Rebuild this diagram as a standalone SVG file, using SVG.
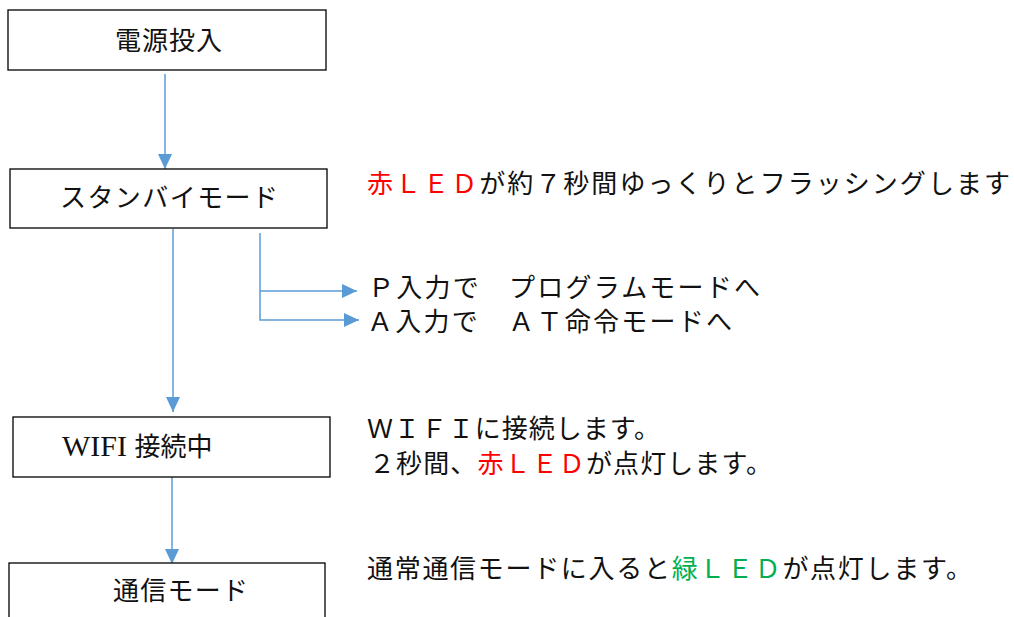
<svg xmlns="http://www.w3.org/2000/svg" width="1014" height="617" viewBox="0 0 1014 617">
<style>
.box{fill:#fff;stroke:#000;stroke-width:1.3}
.t{font-family:"Liberation Serif","Noto Sans CJK JP",serif;font-size:26px;fill:#111}
.c{stroke:#5B9BD5;stroke-width:1.5;fill:none}
.red{fill:#FF0000}
.green{fill:#00B050}
</style>
<defs>
<marker id="ah" markerUnits="userSpaceOnUse" markerWidth="16" markerHeight="16" viewBox="0 0 16 16" refX="15" refY="8" orient="auto">
<path d="M0,1 L15,8 L0,15 Z" fill="#5B9BD5"/>
</marker>
</defs>
<rect width="1014" height="617" fill="#fff"/>
<g id="connectors">
<line class="c" x1="165" y1="74" x2="165" y2="169" marker-end="url(#ah)"/>
<line class="c" x1="173" y1="229" x2="173" y2="412" marker-end="url(#ah)"/>
<polyline class="c" points="260,233 260,320 359,320" marker-end="url(#ah)"/>
<line class="c" x1="260" y1="291" x2="357" y2="291" marker-end="url(#ah)"/>
<line class="c" x1="172" y1="477" x2="172" y2="564" marker-end="url(#ah)"/>
</g>
<g id="n1">
<rect class="box" x="8" y="10" width="318" height="60"/>
<text class="t" x="115" y="50" textLength="107" lengthAdjust="spacing">電源投入</text>
</g>
<g id="n2">
<rect class="box" x="10" y="169" width="317" height="59"/>
<text class="t" x="60" y="207" textLength="218" lengthAdjust="spacing">スタンバイモード</text>
</g>
<g id="n3">
<rect class="box" x="13" y="417" width="317" height="60"/>
<text class="t" x="62" y="456"><tspan font-size="30">WIFI </tspan>接続中</text>
</g>
<g id="n4">
<rect class="box" x="9" y="563" width="316" height="60"/>
<text class="t" x="113" y="600" textLength="135" lengthAdjust="spacing">通信モード</text>
</g>
<g id="notes">
<text class="t" x="367" y="193" textLength="643" lengthAdjust="spacing"><tspan class="red">赤ＬＥＤ</tspan>が約７秒間ゆっくりとフラッシングします</text>
<text class="t" x="368" y="297" textLength="392" lengthAdjust="spacing">Ｐ入力で　プログラムモードへ</text>
<text class="t" x="367" y="331" textLength="365" lengthAdjust="spacing">Ａ入力で　ＡＴ命令モードへ</text>
<text class="t" x="367" y="438" textLength="293" lengthAdjust="spacing">ＷＩＦＩに接続します。</text>
<text class="t" x="369" y="473" textLength="403" lengthAdjust="spacing">２秒間、<tspan class="red">赤ＬＥＤ</tspan>が点灯します。</text>
<text class="t" x="367" y="578" textLength="605" lengthAdjust="spacing">通常通信モードに入ると<tspan class="green">緑ＬＥＤ</tspan>が点灯します。</text>
</g>
</svg>
